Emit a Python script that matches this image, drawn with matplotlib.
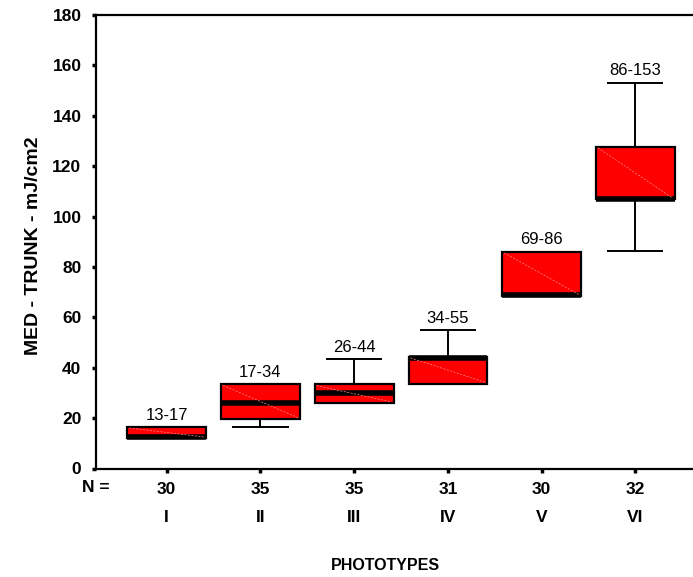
import matplotlib
matplotlib.use("Agg")
import matplotlib.pyplot as plt

# ---- data ----
phototypes = ["I", "II", "III", "IV", "V", "VI"]
n_values = ["30", "35", "35", "31", "30", "32"]
q1 = [12.0, 19.7, 25.9, 33.7, 68.5, 106.8]
median = [12.6, 25.9, 30.1, 44.0, 68.9, 107.0]
q3 = [16.6, 33.5, 33.4, 44.4, 86.1, 127.8]
whisker_low = [12.0, 16.6, 25.9, 33.7, 68.5, 86.2]
whisker_high = [16.6, 33.5, 43.5, 54.9, 86.1, 153.2]
range_labels = ["13-17", "17-34", "26-44", "34-55", "69-86", "86-153"]
y_ticks = [0, 20, 40, 60, 80, 100, 120, 140, 160, 180]

plt.rcParams['font.family'] = ['Liberation Sans', 'DejaVu Sans']

fig = plt.figure(figsize=(6.93, 5.77), dpi=100)
ax = fig.add_axes([96 / 693, 1 - 468.5 / 577, 1 - 96 / 693, (468.5 - 15) / 577])

positions = list(range(1, len(phototypes) + 1))
stats = []
for i in range(len(phototypes)):
    stats.append(dict(med=median[i], q1=q1[i], q3=q3[i],
                      whislo=whisker_low[i], whishi=whisker_high[i],
                      fliers=[], label=phototypes[i]))

box_w = 0.84
ax.bxp(stats, positions=positions, widths=box_w, patch_artist=True,
       showfliers=False, capwidths=0.58,
       boxprops=dict(facecolor='#ff0000', edgecolor='black', linewidth=1.6),
       medianprops=dict(color='black', linewidth=4, solid_capstyle='butt'),
       whiskerprops=dict(color='black', linewidth=1.4),
       capprops=dict(color='black', linewidth=1.4))

# faint diagonal seen inside each box
for p, lo, hi in zip(positions, q1, q3):
    ax.plot([p - box_w / 2 + 0.02, p + box_w / 2 - 0.02], [hi - 0.5, lo + 0.5],
            color='#ff8c8c', linewidth=0.5, linestyle=(0, (3, 2)), zorder=2.5)

for p, hi, lab in zip(positions, whisker_high, range_labels):
    ax.annotate(lab, xy=(p, hi), xytext=(0, 3), textcoords='offset points',
                ha='center', va='bottom', fontsize=12)

ax.set_xlim(0.245, 6.616)
ax.set_ylim(0, 180)
ax.set_yticks(y_ticks)
ax.set_yticklabels([str(t) for t in y_ticks], fontsize=12.5, fontweight='bold')
ax.set_xticks(positions)
ax.set_xticklabels(n_values, fontsize=12.5, fontweight='bold')

ax.tick_params(axis='both', direction='out', length=3, width=2.5, color='black')
ax.tick_params(axis='y', pad=7.5)
ax.tick_params(axis='x', pad=7)

for s in ['top', 'bottom', 'left']:
    ax.spines[s].set_linewidth(1.6)
ax.spines['right'].set_visible(False)

xt = ax.get_xaxis_transform()
for p, r in zip(positions, phototypes):
    ax.text(p, -49 / 453.5, r, transform=xt, ha='center', va='center',
            fontsize=12.5, fontweight='bold')
ax.text(110 / 693, 1 - 487.5 / 577, "N =", transform=fig.transFigure,
        ha='right', va='center', fontsize=12.5, fontweight='bold')

fig.text(385 / 693, 1 - 565 / 577, "PHOTOTYPES", ha='center', va='center',
         fontsize=11.5, fontweight='bold')
fig.text(34 / 693, 1 - 246 / 577, "MED - TRUNK - mJ/cm2", rotation=90,
         ha='center', va='center', fontsize=14, fontweight='bold')

fig.savefig("out.png", dpi=100)
